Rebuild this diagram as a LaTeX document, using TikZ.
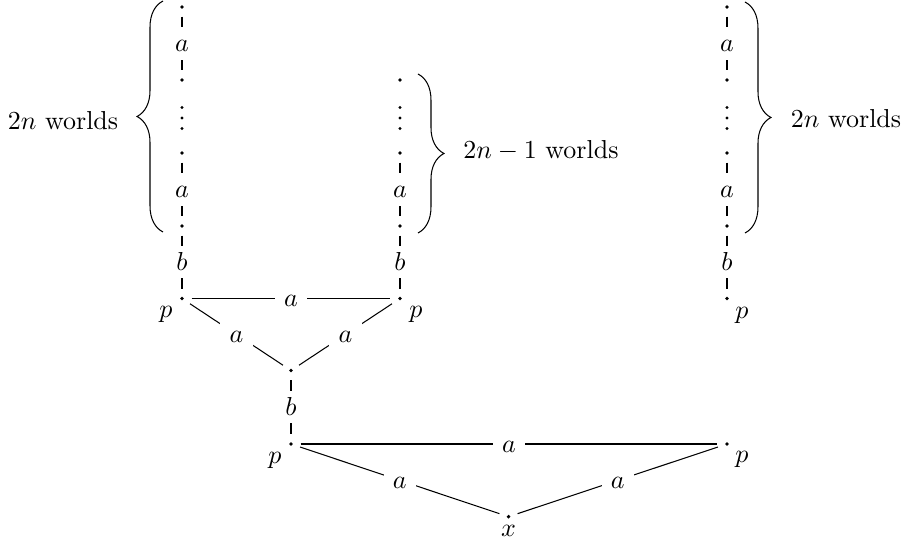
\documentclass[tikz,border=0pt]{standalone}
\usetikzlibrary{decorations.pathreplacing}
\begin{document}
\begin{tikzpicture}[x=0.385pt, y=-0.385pt,
  world/.style={circle, minimum size=7pt, inner sep=0pt,
    path picture={\fill (path picture bounding box.center) circle (0.75pt);}},
  lbl/.style={fill=white, inner xsep=3.6pt, inner ysep=3pt, text height=6.5pt, text depth=0pt},
  vdot/.style={circle, fill, inner sep=0pt, minimum size=1.2pt},
  bracestyle/.style={decorate, decoration={brace, amplitude=10pt}}]
\useasboundingbox (0,0) rectangle (913,546);

% left column
\node[world] (L0) at (182,7) {};
\node[world] (L1) at (182,80) {};
\node[world] (L2) at (182,153) {};
\node[world] (L3) at (182,226) {};
\node[world] (LP) at (182,298.5) {};

% middle column
\node[world] (M1) at (400,80) {};
\node[world] (M2) at (400,153) {};
\node[world] (M3) at (400,226) {};
\node[world] (MP) at (400,298.5) {};

% right column
\node[world] (R0) at (727,7) {};
\node[world] (R1) at (727,80) {};
\node[world] (R2) at (727,153) {};
\node[world] (R3) at (727,226) {};
\node[world] (RP) at (727,298.5) {};

% vertical ellipses
\foreach \cx in {182,400,727}{
  \foreach \cy in {107.5,118,128.5}{
    \node[vdot] at (\cx,\cy) {};
  }
}

% lower part
\node[world] (C) at (291,370.5) {};
\node[world] (D) at (291,444) {};
\node[world] (E) at (727,444) {};
\node[world] (X) at (508.5,516.7) {};

% p and x labels
\path (LP) ++(-16,16) node (pLP) {$p$};
\path (MP) ++(16,16) node (pMP) {$p$};
\path (RP) ++(15,17) node (pRP) {$p$};
\path (D) ++(-16,16) node (pD) {$p$};
\path (E) ++(15,15) node (pE) {$p$};
\path (X) ++(0,14) node (xX) {$x$};

% edges
\draw (L0) -- node[lbl] {$a$} (L1);
\draw (L2) -- node[lbl] {$a$} (L3);
\draw (L3) -- node[lbl] {$b$} (LP);
\draw (M2) -- node[lbl] {$a$} (M3);
\draw (M3) -- node[lbl] {$b$} (MP);
\draw (R0) -- node[lbl] {$a$} (R1);
\draw (R2) -- node[lbl] {$a$} (R3);
\draw (R3) -- node[lbl] {$b$} (RP);
\draw (LP) -- node[lbl] {$a$} (MP);
\draw (LP) -- node[lbl] {$a$} (C);
\draw (MP) -- node[lbl] {$a$} (C);
\draw (C) -- node[lbl] {$b$} (D);
\draw (D) -- node[lbl] {$a$} (E);
\draw (D) -- node[lbl] {$a$} (X);
\draw (E) -- node[lbl] {$a$} (X);

% braces
\coordinate (bl1) at (163,232);
\coordinate (bl2) at (163,1);
\draw[bracestyle] (bl1) -- (bl2);
\node (tl) at (63,121) {$2n$ worlds};
\coordinate (bm1) at (418,74);
\coordinate (bm2) at (418,233);
\draw[bracestyle] (bm1) -- (bm2);
\node (tm) at (541,151) {$2n-1$ worlds};
\coordinate (br1) at (745,2);
\coordinate (br2) at (745,233);
\draw[bracestyle] (br1) -- (br2);
\node (tr) at (846,119) {$2n$ worlds};
\end{tikzpicture}
\end{document}
